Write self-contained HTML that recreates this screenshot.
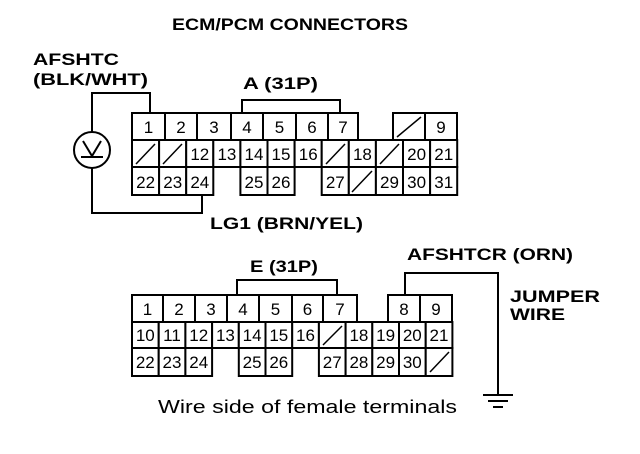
<!DOCTYPE html>
<html><head><meta charset="utf-8"><style>
html,body{margin:0;padding:0;background:#fff;}
svg{display:block;}
text{font-family:"Liberation Sans",sans-serif;fill:#000;}
.b{font-weight:bold;font-size:17px;}
.n{font-size:17px;text-anchor:middle;}
.c{fill:#fff;stroke:#000;stroke-width:2;}
.w{fill:none;stroke:#000;stroke-width:2;}
.s{fill:none;stroke:#000;stroke-width:1.5;}
</style></head><body>
<svg width="640" height="454" viewBox="0 0 640 454" xmlns="http://www.w3.org/2000/svg">
<text class="b" x="172" y="30" font-size="18" textLength="236" lengthAdjust="spacingAndGlyphs">ECM/PCM CONNECTORS</text>
<text class="b" x="33" y="65" textLength="86" lengthAdjust="spacingAndGlyphs">AFSHTC</text>
<text class="b" x="33" y="85" textLength="115" lengthAdjust="spacingAndGlyphs">(BLK/WHT)</text>
<text class="b" x="243" y="89" textLength="75" lengthAdjust="spacingAndGlyphs">A (31P)</text>
<text class="b" x="210" y="229" textLength="153" lengthAdjust="spacingAndGlyphs">LG1 (BRN/YEL)</text>

<polyline class="w" points="242,113 242,100 340,100 340,113"/>
<polyline class="w" points="92,132 92,93 150,93 150,113"/>
<polyline class="w" points="92,168 92,213 202,213 202,195"/>
<circle cx="92" cy="150" r="18" class="w"/>
<polyline class="w" points="83,141 92,156 101,141"/>
<line class="w" x1="81" y1="157" x2="103" y2="157"/>

<g>
<rect class="c" x="132" y="113" width="33" height="27"/><text class="n" x="148.5" y="133">1</text>
<rect class="c" x="165" y="113" width="32" height="27"/><text class="n" x="181" y="133">2</text>
<rect class="c" x="197" y="113" width="34" height="27"/><text class="n" x="214" y="133">3</text>
<rect class="c" x="231" y="113" width="32" height="27"/><text class="n" x="247" y="133">4</text>
<rect class="c" x="263" y="113" width="33" height="27"/><text class="n" x="279.5" y="133">5</text>
<rect class="c" x="296" y="113" width="32" height="27"/><text class="n" x="312" y="133">6</text>
<rect class="c" x="328" y="113" width="30" height="27"/><text class="n" x="343" y="133">7</text>
<rect class="c" x="393" y="113" width="32" height="27"/><line class="s" x1="397" y1="137" x2="421" y2="117"/>
<rect class="c" x="425" y="113" width="32" height="27"/><text class="n" x="441" y="133">9</text>
</g>
<g>
<rect class="c" x="132" y="140" width="27.1" height="27"/><line class="s" x1="136" y1="164" x2="155" y2="144"/>
<rect class="c" x="159.1" y="140" width="27.1" height="27"/><line class="s" x1="163" y1="164" x2="182" y2="144"/>
<rect class="c" x="186.2" y="140" width="27.1" height="27"/><text class="n" x="199.8" y="160">12</text>
<rect class="c" x="213.3" y="140" width="27.1" height="27"/><text class="n" x="226.9" y="160">13</text>
<rect class="c" x="240.4" y="140" width="27.1" height="27"/><text class="n" x="254" y="160">14</text>
<rect class="c" x="267.5" y="140" width="27.1" height="27"/><text class="n" x="281" y="160">15</text>
<rect class="c" x="294.6" y="140" width="27.1" height="27"/><text class="n" x="308.2" y="160">16</text>
<rect class="c" x="321.7" y="140" width="27.1" height="27"/><line class="s" x1="326" y1="164" x2="345" y2="144"/>
<rect class="c" x="348.8" y="140" width="27.1" height="27"/><text class="n" x="362.4" y="160">18</text>
<rect class="c" x="375.9" y="140" width="27.1" height="27"/><line class="s" x1="380" y1="164" x2="399" y2="144"/>
<rect class="c" x="403" y="140" width="27.1" height="27"/><text class="n" x="416.6" y="160">20</text>
<rect class="c" x="430.1" y="140" width="27.1" height="27"/><text class="n" x="443.7" y="160">21</text>
</g>
<g>
<rect class="c" x="132" y="167" width="27.1" height="28"/><text class="n" x="145.6" y="188">22</text>
<rect class="c" x="159.1" y="167" width="27.1" height="28"/><text class="n" x="172.7" y="188">23</text>
<rect class="c" x="186.2" y="167" width="27.1" height="28"/><text class="n" x="199.8" y="188">24</text>
<rect class="c" x="240.4" y="167" width="27.1" height="28"/><text class="n" x="254" y="188">25</text>
<rect class="c" x="267.5" y="167" width="27.1" height="28"/><text class="n" x="281" y="188">26</text>
<rect class="c" x="321.7" y="167" width="27.1" height="28"/><text class="n" x="335.3" y="188">27</text>
<rect class="c" x="348.8" y="167" width="27.1" height="28"/><line class="s" x1="352" y1="192" x2="372" y2="171"/>
<rect class="c" x="375.9" y="167" width="27.1" height="28"/><text class="n" x="389.5" y="188">29</text>
<rect class="c" x="403" y="167" width="27.1" height="28"/><text class="n" x="416.6" y="188">30</text>
<rect class="c" x="430.1" y="167" width="27.1" height="28"/><text class="n" x="443.7" y="188">31</text>
</g>

<text class="b" x="250" y="272" textLength="68" lengthAdjust="spacingAndGlyphs">E (31P)</text>
<text class="b" x="407" y="260" textLength="166" lengthAdjust="spacingAndGlyphs">AFSHTCR (ORN)</text>
<text class="b" x="510" y="302" textLength="90" lengthAdjust="spacingAndGlyphs">JUMPER</text>
<text class="b" x="510" y="320" textLength="55" lengthAdjust="spacingAndGlyphs">WIRE</text>
<text x="158" y="413" font-size="18" textLength="299" lengthAdjust="spacingAndGlyphs">Wire side of female terminals</text>
<polyline class="w" points="237,295 237,280 337,280 337,295"/>
<polyline class="w" points="405,295 405,273 498,273 498,394"/>
<line class="w" x1="483" y1="395" x2="513" y2="395"/>
<line class="w" x1="488" y1="401" x2="508" y2="401"/>
<line class="w" x1="493" y1="407" x2="503" y2="407"/>

<g>
<rect class="c" x="132" y="295" width="31" height="27"/><text class="n" x="147.5" y="315">1</text>
<rect class="c" x="163" y="295" width="32" height="27"/><text class="n" x="179" y="315">2</text>
<rect class="c" x="195" y="295" width="32" height="27"/><text class="n" x="211" y="315">3</text>
<rect class="c" x="227" y="295" width="32" height="27"/><text class="n" x="243" y="315">4</text>
<rect class="c" x="259" y="295" width="33" height="27"/><text class="n" x="275.5" y="315">5</text>
<rect class="c" x="292" y="295" width="31" height="27"/><text class="n" x="307.5" y="315">6</text>
<rect class="c" x="323" y="295" width="34" height="27"/><text class="n" x="340" y="315">7</text>
<rect class="c" x="388" y="295" width="32" height="27"/><text class="n" x="404" y="315">8</text>
<rect class="c" x="420" y="295" width="32" height="27"/><text class="n" x="436" y="315">9</text>
</g>
<g>
<rect class="c" x="132" y="322" width="26.7" height="26"/><text class="n" x="145.3" y="341">10</text>
<rect class="c" x="158.7" y="322" width="26.7" height="26"/><text class="n" x="172" y="341">11</text>
<rect class="c" x="185.4" y="322" width="26.7" height="26"/><text class="n" x="198.7" y="341">12</text>
<rect class="c" x="212.1" y="322" width="26.7" height="26"/><text class="n" x="225.4" y="341">13</text>
<rect class="c" x="238.8" y="322" width="26.7" height="26"/><text class="n" x="252.1" y="341">14</text>
<rect class="c" x="265.5" y="322" width="26.7" height="26"/><text class="n" x="278.8" y="341">15</text>
<rect class="c" x="292.2" y="322" width="26.7" height="26"/><text class="n" x="305.5" y="341">16</text>
<rect class="c" x="318.9" y="322" width="26.7" height="26"/><line class="s" x1="323" y1="345" x2="342" y2="326"/>
<rect class="c" x="345.6" y="322" width="26.7" height="26"/><text class="n" x="358.9" y="341">18</text>
<rect class="c" x="372.3" y="322" width="26.7" height="26"/><text class="n" x="385.6" y="341">19</text>
<rect class="c" x="399" y="322" width="26.7" height="26"/><text class="n" x="412.3" y="341">20</text>
<rect class="c" x="425.7" y="322" width="26.7" height="26"/><text class="n" x="439" y="341">21</text>
</g>
<g>
<rect class="c" x="132" y="348" width="26.7" height="28"/><text class="n" x="145.3" y="368">22</text>
<rect class="c" x="158.7" y="348" width="26.7" height="28"/><text class="n" x="172" y="368">23</text>
<rect class="c" x="185.4" y="348" width="26.7" height="28"/><text class="n" x="198.7" y="368">24</text>
<rect class="c" x="238.8" y="348" width="26.7" height="28"/><text class="n" x="252.1" y="368">25</text>
<rect class="c" x="265.5" y="348" width="26.7" height="28"/><text class="n" x="278.8" y="368">26</text>
<rect class="c" x="318.9" y="348" width="26.7" height="28"/><text class="n" x="332.2" y="368">27</text>
<rect class="c" x="345.6" y="348" width="26.7" height="28"/><text class="n" x="358.9" y="368">28</text>
<rect class="c" x="372.3" y="348" width="26.7" height="28"/><text class="n" x="385.6" y="368">29</text>
<rect class="c" x="399" y="348" width="26.7" height="28"/><text class="n" x="412.3" y="368">30</text>
<rect class="c" x="425.7" y="348" width="26.7" height="28"/><line class="s" x1="430" y1="372" x2="449" y2="352"/>
</g>
</svg>
</body></html>
